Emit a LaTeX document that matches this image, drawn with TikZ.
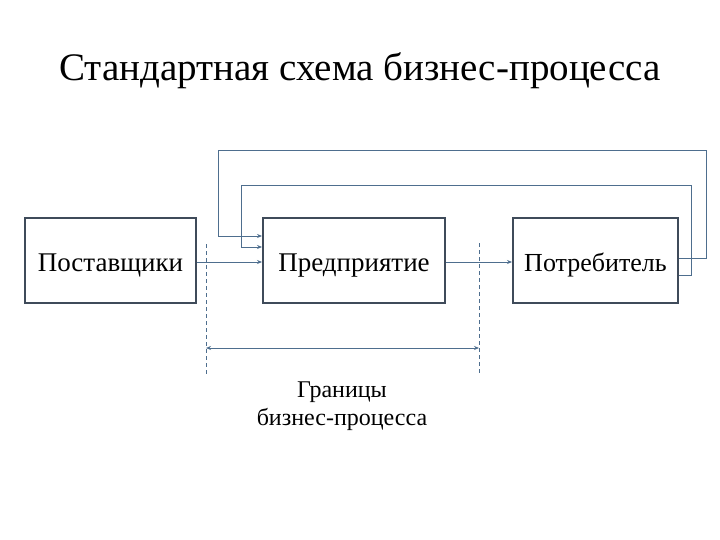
\documentclass[tikz,border=0pt]{standalone}
\usepackage{fontspec}
\setmainfont{Liberation Serif}
\usetikzlibrary{arrows.meta}
\definecolor{boxc}{HTML}{3F4B5A}
\definecolor{linec}{HTML}{4E6E8E}
\begin{document}
\begin{tikzpicture}[x=1pt,y=-1pt,
  blk/.style={draw=boxc,line width=2pt,minimum width=#1,minimum height=85pt,inner sep=0pt,text height=22pt,text depth=0pt,font=\fontsize{27}{32}\selectfont},
  conn/.style={draw=linec,line width=0.9pt,-{Stealth[length=5pt,width=4pt]}},
  fb/.style={draw=linec,line width=0.9pt},
  bnd/.style={draw=linec,line width=0.8pt,dashed,dash pattern=on 4pt off 3pt}]
\useasboundingbox (0,0) rectangle (720,540);
\node (title) at (360,71) {\fontsize{39}{46}\selectfont Стандартная схема бизнес-процесса};
\node[blk=171pt] (sup) at (110.5,260.5) {Поставщики};
\node[blk=182pt] (ent) at (354,260.5) {Предприятие};
\node[blk=165pt,font=\fontsize{26}{30}\selectfont] (con) at (595.5,260.5) {Потребитель};
\draw[conn] (sup.east |- 0,262) -- (ent.west |- 0,262);
\draw[conn] (ent.east |- 0,262) -- (con.west |- 0,262);
\draw[fb] (con.east |- 0,258) -- (706,258) -- (706,150) -- (218,150) -- (218,236);
\draw[conn] (218,236) -- (ent.west |- 0,236);
\draw[fb] (con.east |- 0,275) -- (691,275) -- (691,185) -- (241,185) -- (241,247);
\draw[conn] (241,247) -- (ent.west |- 0,247);
\coordinate (b1t) at (206,244);
\coordinate (b1b) at (206,374);
\coordinate (b2t) at (479,243);
\coordinate (b2b) at (479,374);
\draw[bnd] (b1t) -- (b1b);
\draw[bnd] (b2t) -- (b2b);
\coordinate (d1) at (206,348);
\coordinate (d2) at (479,348);
\draw[draw=linec,line width=0.9pt,{Stealth[length=5pt,width=4pt]}-{Stealth[length=5pt,width=4pt]}] (d1) -- (d2);
\node[align=center,font=\fontsize{24}{28}\selectfont] (lbl) at (342,406) {Границы\\бизнес-процесса};
\end{tikzpicture}
\end{document}
